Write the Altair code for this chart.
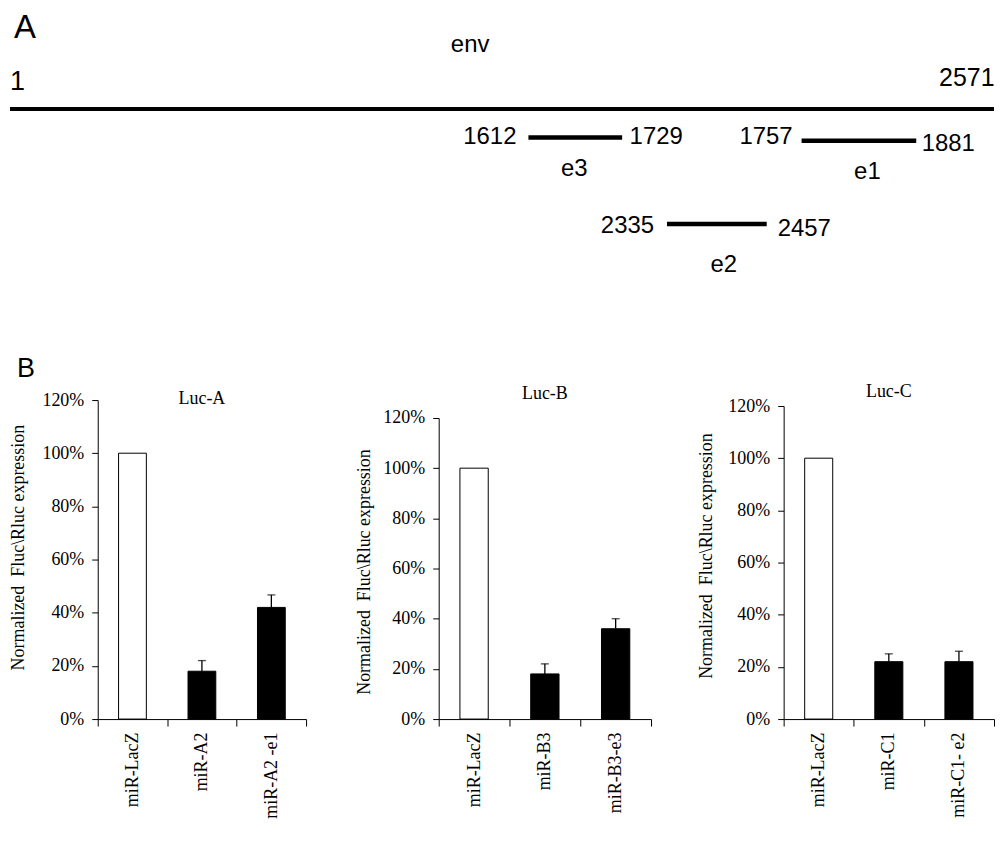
import altair as alt
import pandas as pd

# ---------------- Panel A: env map (schematic) ----------------
gene_name = "env"
gene_start_label = "1"
gene_end_label = "2571"
fragment_names = ["e3", "e1", "e2"]
fragment_starts = ["1612", "1757", "2335"]
fragment_ends = ["1729", "1881", "2457"]

# schematic drawing positions (diagram units, not data values)
main_line = {"x0": 0, "x1": 987, "y": 100}
frag_x0 = [520, 794, 659]
frag_x1 = [614, 909, 759]
frag_y = [128.7, 132, 215.5]
frag_start_lab_x = [508, 785, 646]
frag_start_lab_y = [135, 135, 224]
frag_end_lab_x = [621.5, 914.5, 770]
frag_end_lab_y = [135, 142, 227]
frag_name_x = [566, 860, 716]
frag_name_y = [167, 170, 264]

# ---------------- Panel B: luciferase assays ----------------
panel_titles = ["Luc-A", "Luc-B", "Luc-C"]
categories = [
    ["miR-LacZ", "miR-A2", "miR-A2 -e1"],
    ["miR-LacZ", "miR-B3", "miR-B3-e3"],
    ["miR-LacZ", "miR-C1", "miR-C1- e2"],
]
values = [
    [1.00, 0.18, 0.42],
    [1.00, 0.18, 0.36],
    [1.00, 0.22, 0.22],
]
errors = [
    [0.0, 0.04, 0.047],
    [0.0, 0.04, 0.04],
    [0.0, 0.03, 0.04],
]
kinds = ["control", "miR", "miR"]
y_ticks = [0, 0.2, 0.4, 0.6, 0.8, 1.0, 1.2]
y_title = "Normalized\u00a0 Fluc\\Rluc expression"

# ---------------- build panel A ----------------
LEFT = 88          # room left of the bar-chart y axis
WA, HA = 988, 290
xs = alt.Scale(domain=[0, WA], range=[-LEFT, WA - LEFT], nice=False, zero=False)
ys = alt.Scale(domain=[0, HA], range=[0, HA], nice=False, zero=False)

main_df = pd.DataFrame([main_line])
frag_df = pd.DataFrame({"x0": frag_x0, "x1": frag_x1, "y": frag_y})

main_rule = alt.Chart(main_df).mark_rule(color="black", strokeWidth=4).encode(
    x=alt.X("x0:Q", scale=xs, axis=None),
    x2="x1:Q",
    y=alt.Y("y:Q", scale=ys, axis=None),
)
frag_rule = alt.Chart(frag_df).mark_rule(color="black", strokeWidth=4.5).encode(
    x=alt.X("x0:Q", scale=xs, axis=None),
    x2="x1:Q",
    y=alt.Y("y:Q", scale=ys, axis=None),
)

right_df = pd.DataFrame({
    "t": fragment_starts + [gene_end_label],
    "x": frag_start_lab_x + [987.5],
    "y": frag_start_lab_y + [77],
    "s": [24, 24, 24, 25],
})
left_df = pd.DataFrame({
    "t": fragment_ends + [gene_start_label, "A"],
    "x": frag_end_lab_x + [0, 4],
    "y": frag_end_lab_y + [81, 29],
    "s": [24, 24, 24, 27, 33],
})
center_df = pd.DataFrame({
    "t": fragment_names + [gene_name],
    "x": frag_name_x + [461.5],
    "y": frag_name_y + [43],
    "s": [24, 24, 24, 24],
})


def text_layer(df, align):
    return alt.Chart(df).mark_text(
        font="Liberation Sans", align=align, baseline="alphabetic", color="black"
    ).encode(
        x=alt.X("x:Q", scale=xs, axis=None),
        y=alt.Y("y:Q", scale=ys, axis=None),
        text="t:N",
        size=alt.Size("s:Q", scale=None, legend=None),
    )


panelA = alt.layer(
    main_rule, frag_rule,
    text_layer(right_df, "right"),
    text_layer(left_df, "left"),
    text_layer(center_df, "center"),
).properties(width=WA - LEFT, height=HA)

# ---------------- build panel B ----------------
H = 320
widths = [209, 213, 211]
top_px = [0, 18, 6]
title_pad = [14, 9, 12]
title_y = [147.5, 172, 156]
title_base = [3.5, -1, -3]


def bar_panel(i):
    cats = categories[i]
    df = pd.DataFrame({
        "cat": cats,
        "val": values[i],
        "err": errors[i],
        "kind": kinds,
    })
    df["top"] = df["val"] + df["err"]
    yscale = alt.Scale(domain=[0, 1.2], range=[H, top_px[i]], nice=False)
    yaxis = alt.Axis(
        values=y_ticks, format=".0%", title=y_title, titlePadding=title_pad[i],
        titleY=title_y[i], tickSize=6, labelPadding=8, grid=False, labelOverlap=False,
    )
    xaxis = alt.Axis(
        title=None, labelAngle=-90, tickBand="extent", tickSize=7, labelPadding=6,
        labelOverlap=False, grid=False,
    )
    xenc = alt.X("cat:N", sort=cats, scale=alt.Scale(paddingInner=0, paddingOuter=0), axis=xaxis)
    base = alt.Chart(df)
    bars = base.mark_bar(width=alt.RelativeBandSize(0.4), stroke="black", strokeWidth=1).encode(
        x=xenc,
        y=alt.Y("val:Q", scale=yscale, axis=yaxis),
        fill=alt.Fill("kind:N", scale=alt.Scale(domain=["control", "miR"], range=["white", "black"]), legend=None),
    )
    errs = base.transform_filter("datum.err > 0")
    rule = errs.mark_rule(color="black", strokeWidth=1.3).encode(
        x=xenc, y=alt.Y("val:Q", scale=yscale, axis=yaxis), y2="top:Q"
    )
    cap = errs.mark_tick(color="black", size=8, thickness=1.3).encode(
        x=xenc, y=alt.Y("top:Q", scale=yscale, axis=yaxis)
    )
    ttl = alt.Chart(pd.DataFrame({"t": [panel_titles[i]]})).mark_text(
        font="Liberation Serif", fontSize=18, align="center", baseline="alphabetic", color="black"
    ).encode(text="t:N", x=alt.value(widths[i] / 2), y=alt.value(title_base[i]))
    layers = [bars, rule, cap, ttl]
    if i == 0:
        blab = alt.Chart(pd.DataFrame({"t": ["B"]})).mark_text(
            font="Liberation Sans", fontSize=27, align="left", baseline="alphabetic", color="black"
        ).encode(text="t:N", x=alt.value(-81), y=alt.value(-23))
        layers.append(blab)
    return alt.layer(*layers).properties(width=widths[i], height=H)


row = alt.hconcat(bar_panel(0), bar_panel(1), bar_panel(2), spacing=133, bounds="flush")

chart = alt.vconcat(panelA, row, spacing=102, bounds="flush").properties(padding=0).configure_view(
    strokeWidth=0
).configure_axis(
    labelFont="Liberation Serif", labelFontSize=18, labelColor="black",
    titleFont="Liberation Serif", titleFontSize=18, titleFontWeight="normal", titleColor="black",
    domainColor="black", tickColor="black", domainWidth=1, tickWidth=1,
)

chart.save("out.html", embed_options={"renderer": "svg", "actions": False})
